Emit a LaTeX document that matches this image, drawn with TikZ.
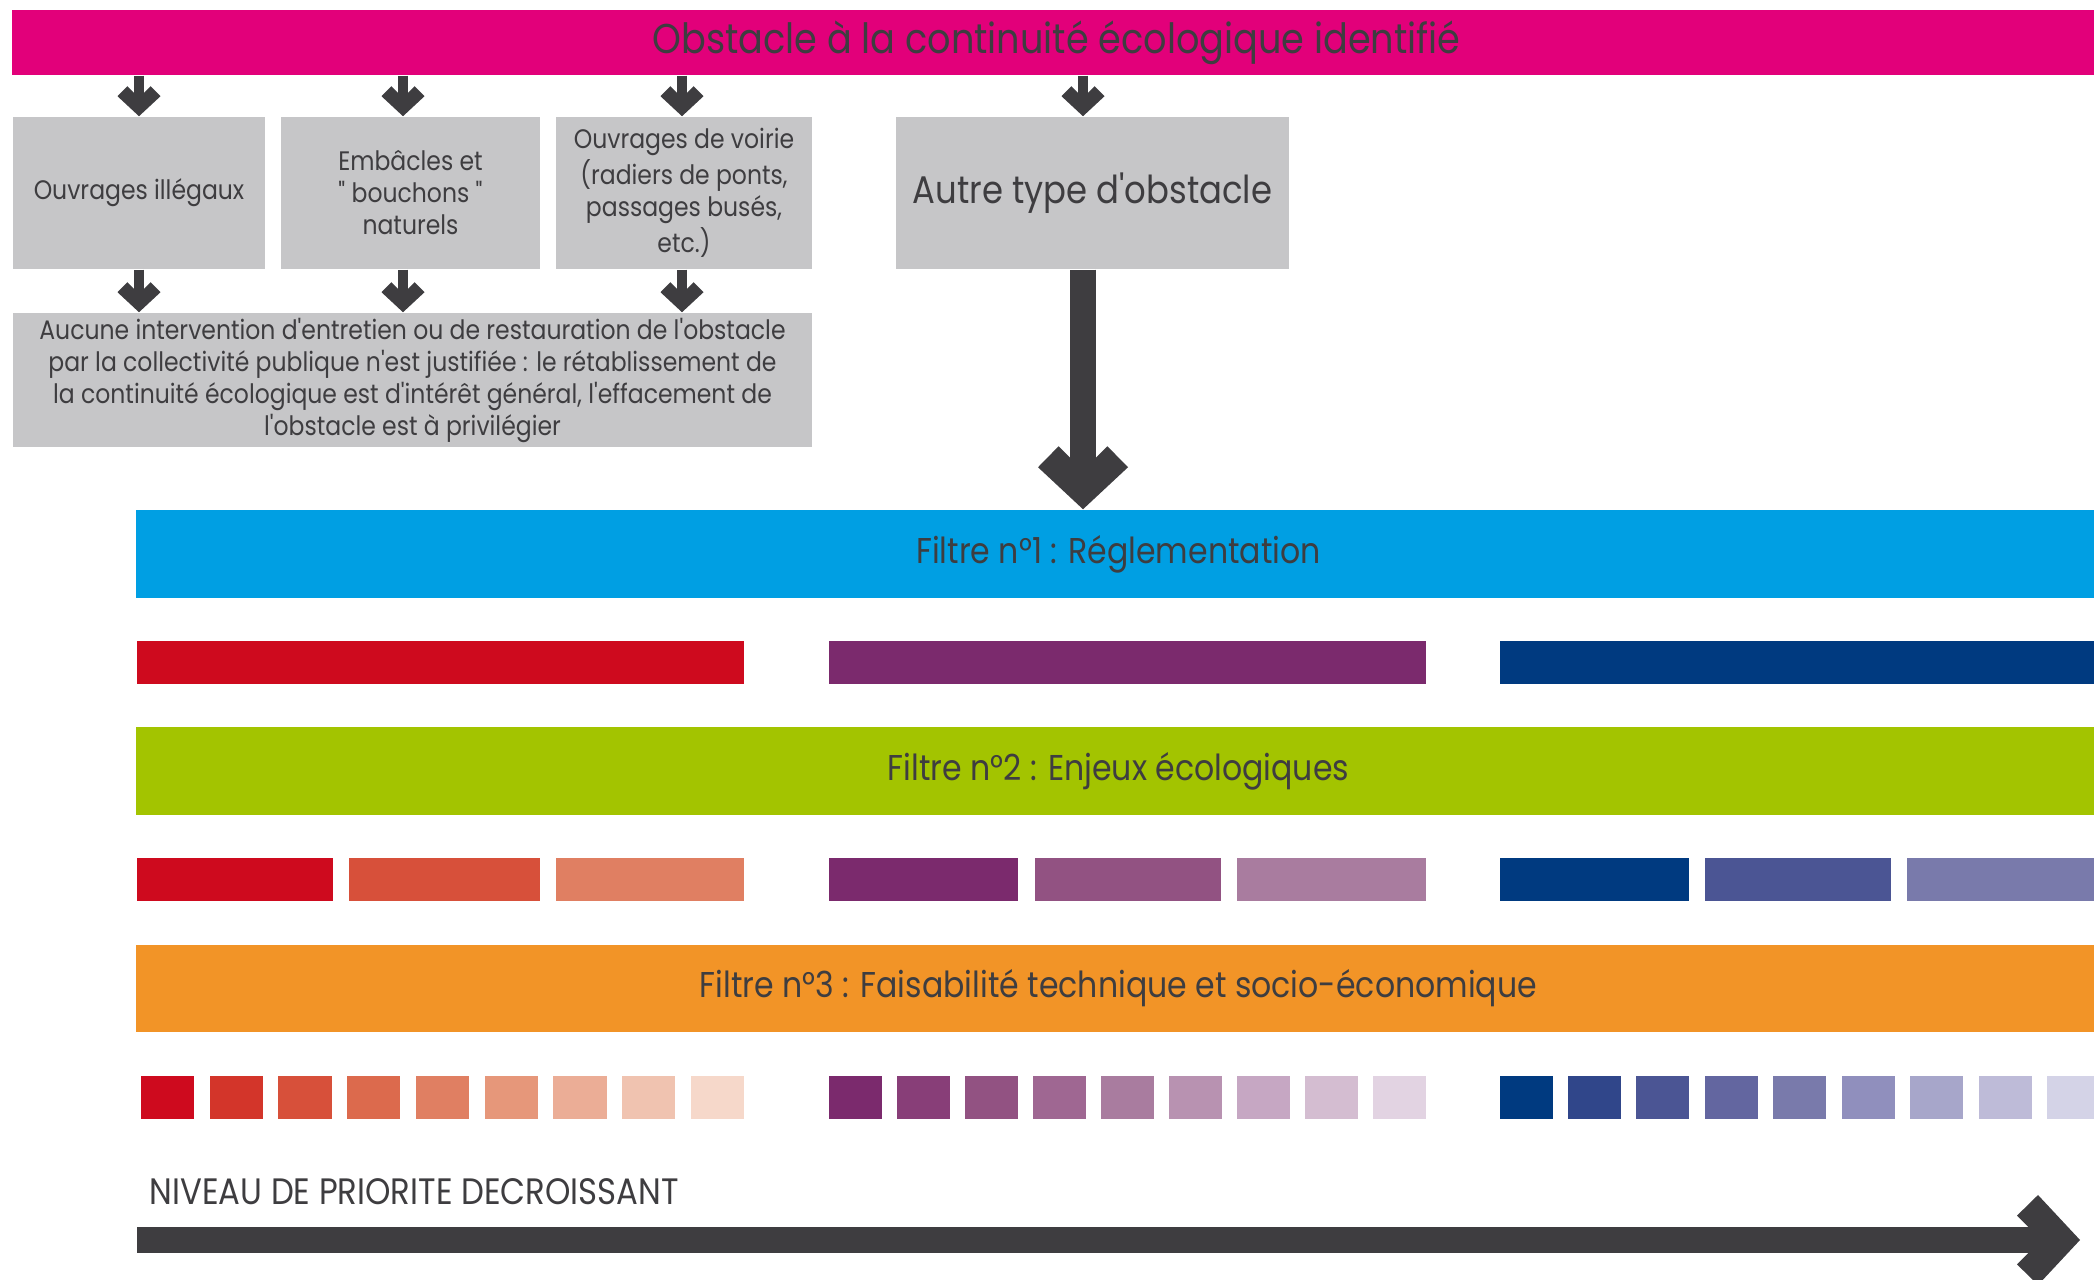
\documentclass[tikz,border=0pt]{standalone}
\usepackage{fontspec}
\setmainfont{Poppins}[FakeStretch=0.88, Ligatures=TeXOff]
\usepackage{tikz}
\usetikzlibrary{
  arrows.meta,
  positioning,
  calc,
  decorations.markings
}

\definecolor{ink}{HTML}{3E3D40}
\definecolor{obstpink}{HTML}{E2007A}
\definecolor{boxgray}{HTML}{C6C6C8}
\definecolor{f1blue}{HTML}{009FE3}
\definecolor{f2green}{HTML}{A3C400}
\definecolor{f3orange}{HTML}{F29427}
% shades, darkest first
\definecolor{r1}{HTML}{CE0A1E}\definecolor{r2}{HTML}{D3352A}\definecolor{r3}{HTML}{D7503A}
\definecolor{r4}{HTML}{DC6A4D}\definecolor{r5}{HTML}{E07F62}\definecolor{r6}{HTML}{E6977A}
\definecolor{r7}{HTML}{EBAD96}\definecolor{r8}{HTML}{F0C3B0}\definecolor{r9}{HTML}{F6D8CA}
\definecolor{p1}{HTML}{7B2A6D}\definecolor{p2}{HTML}{883E78}\definecolor{p3}{HTML}{925282}
\definecolor{p4}{HTML}{9F6792}\definecolor{p5}{HTML}{A97C9F}\definecolor{p6}{HTML}{B892B1}
\definecolor{p7}{HTML}{C6A7C3}\definecolor{p8}{HTML}{D4BDD1}\definecolor{p9}{HTML}{E2D3E2}
\definecolor{n1}{HTML}{003A80}\definecolor{n2}{HTML}{30468A}\definecolor{n3}{HTML}{4B5594}
\definecolor{n4}{HTML}{6366A0}\definecolor{n5}{HTML}{797AAB}\definecolor{n6}{HTML}{908FBD}
\definecolor{n7}{HTML}{A7A6CA}\definecolor{n8}{HTML}{BEBBD8}\definecolor{n9}{HTML}{D4D3E7}

\newcommand\obstfont{\fontsize{11.85}{13}\selectfont}
\newcommand\filterfont{\fontsize{10.2}{12}\selectfont}
\newcommand\autrefont{\fontsize{10.95}{12}\selectfont}
\newcommand\lvlfont{\fontsize{10.45}{12}\selectfont}
\newcommand\boxfont{\fontsize{7.6}{9.1}\selectfont}

\begin{document}
\begin{tikzpicture}[x=0.01cm, y=-0.01cm,
  bar/.style={fill=#1, inner sep=0pt, text=ink, font=\filterfont},
  cat/.style={fill=boxgray, inner sep=0pt, minimum height=1.52cm,
              align=center, text=ink, font=\boxfont},
  cell/.style={fill=#1, inner sep=0pt, minimum height=0.43cm},
  thinarr/.style={draw=ink, line width=0.1cm, shorten >=0.08cm,
    postaction={decorate, decoration={markings,
      mark=at position 1 with {\fill[ink, shorten >=0pt] (0,0) -- (-20,21.5) -- (-30,11.6)
        -- (-18.4,0) -- (-30,-11.6) -- (-20,-21.5) -- cycle;}}}},
  thickarr/.style={draw=ink, line width=0.26cm, shorten >=0.2cm,
    postaction={decorate, decoration={markings,
      mark=at position 1 with {\fill[ink, shorten >=0pt] (0,0) -- (-42,45) -- (-63,24.4)
        -- (-38.6,0) -- (-63,-24.4) -- (-42,-45) -- cycle;}}}}
]
\useasboundingbox (0,0) rectangle (2094,1280);

% top bar and obstacle types
\node[bar=obstpink, minimum width=20.87cm, minimum height=0.65cm, font=\obstfont]
  (obst) at (1056.5,42.5) {\raisebox{-1.5pt}{Obstacle à la continuité écologique identifié}};
\node[cat, minimum width=2.52cm] (ill) at (139,193) {Ouvrages illégaux};
\node[cat, minimum width=2.59cm] (emb) at (410.5,193) {Embâcles et\\" bouchons "\\naturels};
\node[cat, minimum width=2.56cm] (voi) at (684,193)
  {Ouvrages de voirie\\(radiers de ponts,\\passages busés,\\etc.)};
\node[cat, minimum width=3.93cm, font=\autrefont] (autre) at (1092.5,193) {Autre type d'obstacle};
\node[cat, minimum width=7.99cm, minimum height=1.34cm] (aucune) at (412.5,380)
  {Aucune intervention d'entretien ou de restauration de l'obstacle\\
   par la collectivité publique n'est justifiée : le rétablissement de\\
   la continuité écologique est d'intérêt général, l'effacement de\\
   l'obstacle est à privilégier};

\foreach \b/\x in {ill/139, emb/403, voi/682, autre/1083}
  \draw[thinarr] (obst.south -| \x,0) -- (\b.north -| \x,0);
\foreach \b/\x in {ill/139, emb/403, voi/682}
  \draw[thinarr] (\b.south -| \x,0) -- (aucune.north -| \x,0);

% filters
\node[bar=f1blue, minimum width=19.63cm, minimum height=0.88cm] (f1) at (1118.5,554)
  {Filtre n°1 : Réglementation};
\node[bar=f2green, minimum width=19.63cm, minimum height=0.88cm] (f2) at (1118.5,771)
  {Filtre n°2 : Enjeux écologiques};
\node[bar=f3orange, minimum width=19.63cm, minimum height=0.87cm] (f3) at (1118.5,988.5)
  {Filtre n°3 : Faisabilité technique et socio-économique};
\draw[thickarr] (autre.south -| 1083,0) -- (f1.north -| 1083,0);

% row 1: after filter 1
\node[cell=r1, minimum width=6.07cm] (lowr) at (440.5,662.5) {};
\node[cell=p1, minimum width=5.97cm] (lowp) at (1127.5,662.5) {};
\node[cell=n1, minimum width=6.00cm] (lown) at (1800,662.5) {};

% row 2: after filter 2
\foreach \x/\c/\w [count=\i] in {235/r1/1.96, 444.5/r3/1.91, 650/r5/1.88, 923.5/p1/1.89,
                                 1128/p3/1.86, 1331.5/p5/1.89, 1594.5/n1/1.89, 1798/n3/1.86,
                                 2003.5/n5/1.93}
  \node[cell=\c, minimum width=\w cm] (mid\i) at (\x,879.5) {};

% row 3: after filter 3
\foreach \g/\s/\p in {r/167.5/68.75, p/855.5/68, n/1526/68.45}
  \foreach \k in {1,...,9}
    \node[cell=\g\k, minimum width=0.53cm] (sq\g\k) at ({\s+(\k-1)*\p},1097.5) {};

% priority axis
\node[anchor=base west, font=\lvlfont, text=ink, inner sep=0pt] (lvl) at (149,1205)
  {NIVEAU DE PRIORITE DECROISSANT};
\coordinate (axs) at (137,1240);
\coordinate (axe) at (2080,1240);
\draw[thickarr] (axs) -- (axe);
\end{tikzpicture}
\end{document}
